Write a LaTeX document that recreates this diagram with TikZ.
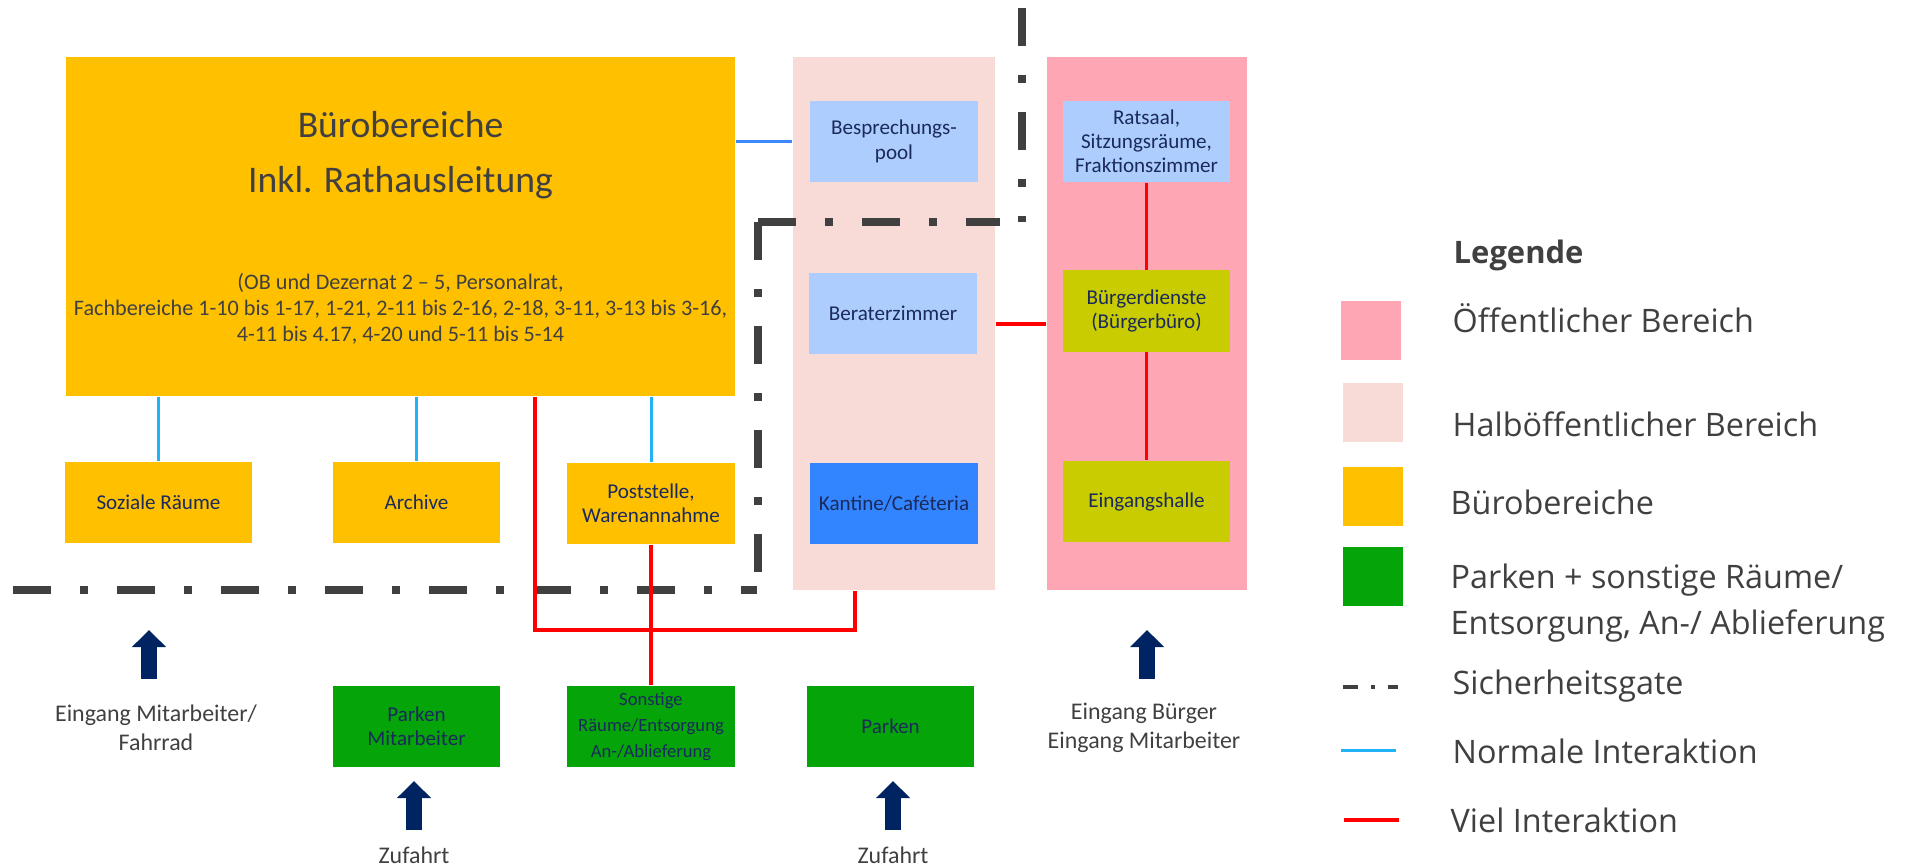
\documentclass[tikz,border=0pt]{standalone}
\usepackage{fontspec}
\setmainfont{Carlito}
\newfontfamily\legfont{Open Sans}
\usetikzlibrary{arrows.meta}

\definecolor{cBuero}{HTML}{FFC000}
\definecolor{cHalb}{HTML}{F8DAD6}
\definecolor{cOeff}{HTML}{FFA6B5}
\definecolor{cHell}{HTML}{ADCDFF}
\definecolor{cKantine}{HTML}{3385FF}
\definecolor{cGelb}{HTML}{C8CC00}
\definecolor{cGruen}{HTML}{05A409}
\definecolor{cNavy}{HTML}{002462}
\definecolor{cGate}{HTML}{404040}
\definecolor{cNormal}{HTML}{22B2F8}
\definecolor{cBesp}{HTML}{3D88FF}
\definecolor{cText}{HTML}{1B2A5C}
\definecolor{cGrau}{HTML}{404040}

\tikzset{
  raum/.style={inner sep=0pt, minimum width=16.8mm, minimum height=8.1mm,
    align=center, text=cText, font=\fontsize{6}{6.9}\selectfont}, % rooms
  bereich/.style={inner sep=0pt, minimum width=20.1mm, minimum height=53.3mm}, % zones
  hinweis/.style={align=center, text=cGrau, font=\fontsize{6.8}{8.2}\selectfont},
  gate/.style={draw=cGate, line width=0.85mm,
    dash pattern=on 3.8mm off 2.9mm on 0.8mm off 2.9mm}, % security gate
  normal/.style={draw=cNormal, line width=0.3mm},
  besp/.style={draw=cBesp, line width=0.35mm},
  viel/.style={draw=red, line width=0.35mm},
  pfeil/.style={draw=cNavy, line width=1.6mm,
    -{Triangle[width=3.3mm, length=1.7mm]}}, % block arrows
  feld/.style={inner sep=0pt, minimum width=6mm, minimum height=5.9mm},
  legtext/.style={anchor=west, inner sep=0pt, align=left, text=cGrau,
    font=\legfont\fontsize{9.2}{13}\selectfont},
}

\begin{document}
\begin{tikzpicture}[x=0.01cm, y=-0.01cm]
  \useasboundingbox (0,0) rectangle (1907,868);

  % zones
  \node[inner sep=0pt, fill=cBuero, minimum width=66.9mm, minimum height=33.9mm] (buero) at (400.5,226.5) {};
  \node[bereich, fill=cHalb, minimum width=20.2mm] (halb) at (894,323.5) {};
  \node[bereich, fill=cOeff, minimum width=20mm] (oeff) at (1147,323.5) {};

  \node[text=cGrau, align=center, font=\fontsize{10.7}{15.6}\selectfont] (titel) at (400.5,155.5)
    {Bürobereiche\\Inkl. Rathausleitung};
  \node[text=cGrau, align=center, font=\fontsize{6.3}{7.4}\selectfont] (untertitel) at (400.5,309)
    {(OB und Dezernat 2 – 5, Personalrat,\\Fachbereiche 1-10 bis 1-17, 1-21, 2-11 bis 2-16, 2-18, 3-11, 3-13 bis 3-16,\\4-11 bis 4.17, 4-20 und 5-11 bis 5-14};

  % rooms
  \node[raum, fill=cHell] (bsp) at (894,141.5) {Besprechungs-\\pool};
  \node[raum, fill=cHell] (berat) at (893,313.5) {Beraterzimmer};
  \node[raum, fill=cKantine] (kant) at (894,503.5) {Kantine/Caféteria};
  \node[raum, fill=cHell, minimum width=16.7mm] (rats) at (1146.5,141.5) {Ratsaal,\\Sitzungsräume,\\Fraktionszimmer};
  \node[raum, fill=cGelb, minimum width=16.7mm] (bdienst) at (1146.5,311) {Bürgerdienste\\(Bürgerbüro)};
  \node[raum, fill=cGelb, minimum width=16.7mm] (halle) at (1146.5,501.5) {Eingangshalle};
  \node[raum, fill=cBuero, minimum width=18.7mm] (sozial) at (158.5,502.5) {Soziale Räume};
  \node[raum, fill=cBuero, minimum width=16.7mm] (archiv) at (416.5,502.5) {Archive};
  \node[raum, fill=cBuero] (post) at (651,503.5) {Poststelle,\\Warenannahme};
  \node[raum, fill=cGruen, minimum width=16.7mm] (parkMA) at (416.5,726.5) {Parken\\Mitarbeiter};
  \node[raum, fill=cGruen, font=\fontsize{5.3}{7.4}\selectfont] (sonst) at (651,726.5) {Sonstige\\Räume/Entsorgung\\An-/Ablieferung};
  \node[raum, fill=cGruen, minimum width=16.7mm] (park) at (890.5,726.5) {Parken};

  % entrances
  \node[hinweis] (einMA) at (156,727.5) {Eingang Mitarbeiter/\\Fahrrad};
  \node[hinweis] (einB) at (1144,727.5) {Eingang Bürger\\Eingang Mitarbeiter};
  \node[hinweis] (zuf1) at (414,855) {Zufahrt};
  \node[hinweis] (zuf2) at (893,855) {Zufahrt};
  \foreach \x/\a/\b in {149/679/630, 1147/679/630, 414/830/781, 893/830/781}
    \draw[pfeil] (\x,\a) -- (\x,\b);

  % security gate
  \draw[gate] (758,222) -- (1000,222);
  \draw[gate] (758,222) -- (758,590);
  \draw[gate] (13,590) -- (757,590);
  \draw[gate] (1022,8) -- (1022,222);

  % interaction
  \draw[normal] (buero.south -| sozial) -- (sozial.north);
  \draw[normal] (buero.south -| archiv) -- (archiv.north);
  \draw[normal] (buero.south -| post) -- (post.north);
  \draw[besp] (buero.east |- bsp) -- (halb.west |- bsp);
  \draw[viel] (post.south) -- (sonst.north);
  \draw[viel] (rats.south) -- (bdienst.north);
  \draw[viel] (bdienst.south) -- (halle.north);
  \coordinate (vB) at (0,324);
  \draw[viel] (halb.east |- vB) -- (oeff.west |- vB);
  \coordinate (knick) at (535,630);
  \coordinate (kantR) at (855,630);
  \draw[viel] (buero.south -| knick) -- (knick) -- (kantR) -- (kantR |- halb.south);

  % legend
  \node[legtext, font=\legfont\bfseries\fontsize{8.8}{11}\selectfont] (leg) at (1453,255) {Legende};
  \node[feld, fill=cOeff] (fOeff) at (1371,330.5) {};
  \node[legtext] (tOeff) at (1452,318) {Öffentlicher Bereich};
  \node[feld, fill=cHalb] (fHalb) at (1373,412.5) {};
  \node[legtext] (tHalb) at (1452,424) {Halböffentlicher Bereich};
  \node[feld, fill=cBuero] (fBuero) at (1373,496.5) {};
  \node[legtext] (tBuero) at (1450,502) {Bürobereiche};
  \node[feld, fill=cGruen] (fGruen) at (1373,576.5) {};
  \node[legtext] (tGruen) at (1450,603) {Parken + sonstige Räume/\\Entsorgung, An-/ Ablieferung};
  \node[legtext] (tGate) at (1452,686) {Sicherheitsgate};
  \node[legtext] (tNorm) at (1452,751) {Normale Interaktion};
  \node[legtext] (tViel) at (1450,820) {Viel Interaktion};
  \draw[gate, line width=0.35mm, dash pattern=on 1.5mm off 1.3mm on 0.4mm off 1.3mm] (1343,687) -- (1398,687);
  \draw[normal] (1341,751) -- (1396,751);
  \draw[viel] (1344,820) -- (1399,820);
\end{tikzpicture}
\end{document}
